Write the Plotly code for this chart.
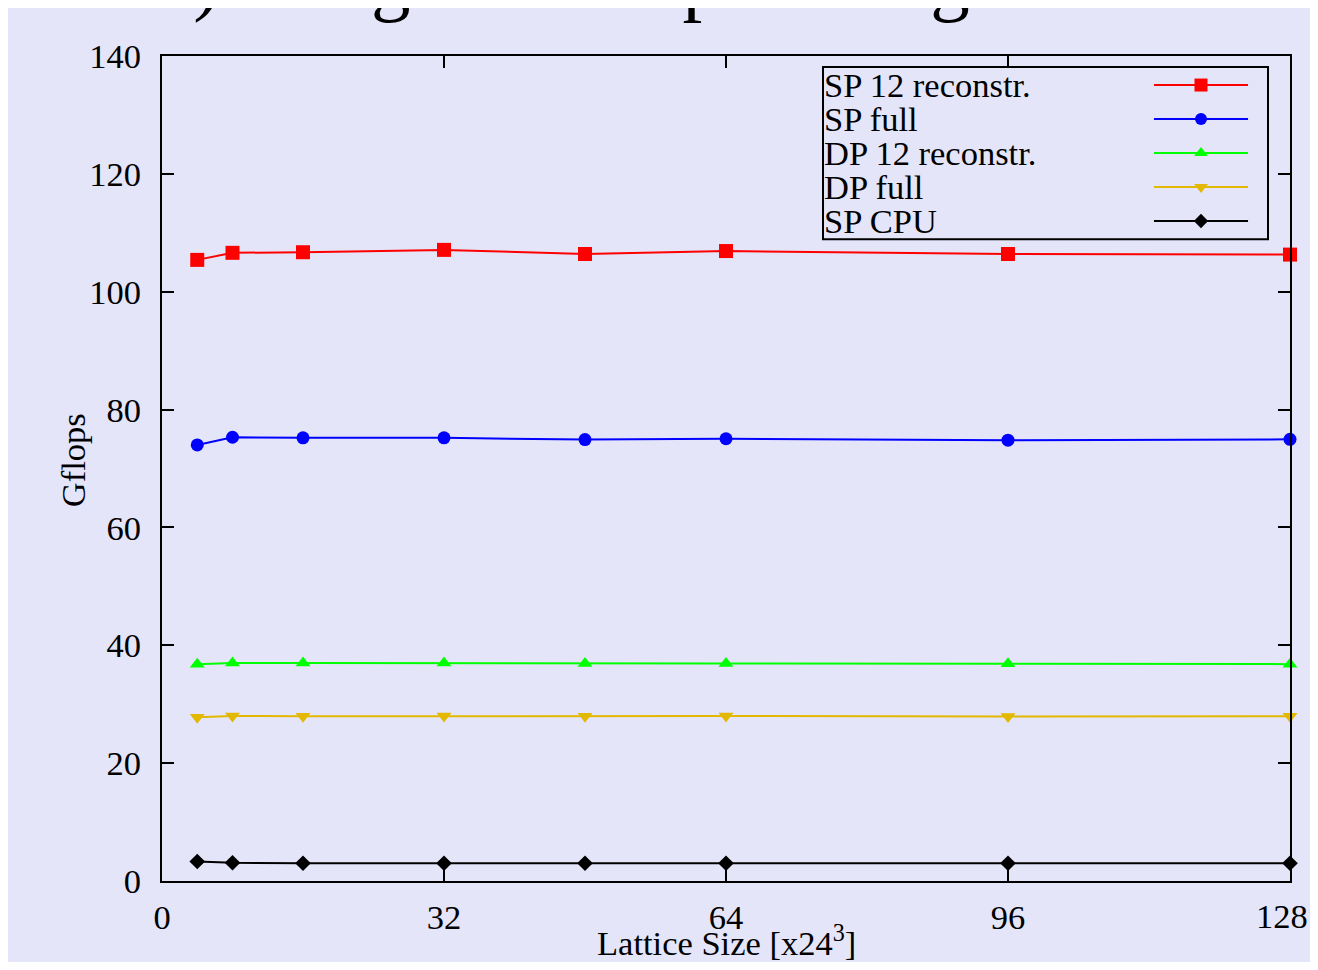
import plotly.graph_objects as go

# ---- data ----
lattice_sizes = [4, 8, 16, 32, 48, 64, 96, 128]
sp_12_reconstr = [105.4, 106.6, 106.7, 107.1, 106.4, 106.9, 106.4, 106.3]
sp_full = [74.0, 75.3, 75.2, 75.2, 74.9, 75.05, 74.8, 74.95]
dp_12_reconstr = [36.8, 37.0, 37.0, 37.0, 36.9, 36.9, 36.85, 36.8]
dp_full = [27.8, 28.0, 27.95, 28.0, 27.95, 28.0, 27.9, 27.95]
sp_cpu = [3.3, 3.1, 3.0, 3.0, 3.0, 3.0, 3.0, 3.0]

series_names = ["SP 12 reconstr.", "SP full", "DP 12 reconstr.", "DP full", "SP CPU"]
x_ticks = [0, 32, 64, 96, 128]
x_tick_labels = ["0", "32", "64", "96", "128"]
y_ticks = [0, 20, 40, 60, 80, 100, 120, 140]

series = [sp_12_reconstr, sp_full, dp_12_reconstr, dp_full, sp_cpu]
colors = ["#FF0000", "#0000FF", "#00FF00", "#E2B800", "#000000"]
symbols = ["square", "circle", "triangle-up", "triangle-down", "diamond"]
msizes = [14, 13, 13, 13, 12]

BG = "#E5E5FA"
FONT = "Liberation Serif"
FS = 34.5

fig = go.Figure()
for name, vals, c, s, ms in zip(series_names, series, colors, symbols, msizes):
    fig.add_trace(go.Scatter(
        x=lattice_sizes, y=vals, name=name, mode="lines+markers",
        line=dict(color=c, width=2), marker=dict(color=c, symbol=s, size=ms),
        cliponaxis=False, showlegend=False))

# ---- custom legend (text left, sample right) ----
leg_left, leg_right, leg_top, leg_bottom = 0.586, 0.9805, 0.9867, 0.778
row_y = [0.9648, 0.9236, 0.8824, 0.8412, 0.8]
line_x0, line_x1, mark_x = 0.8794, 0.9628, 0.9211
shapes = [dict(type="rect", xref="paper", yref="paper", x0=leg_left, x1=leg_right,
               y0=leg_bottom, y1=leg_top, line=dict(color="black", width=2),
               fillcolor="rgba(0,0,0,0)", layer="above")]
annotations = []
for name, c, s, ms, yy in zip(series_names, colors, symbols, msizes, row_y):
    shapes.append(dict(type="line", xref="paper", yref="paper", x0=line_x0, x1=line_x1,
                       y0=yy, y1=yy, line=dict(color=c, width=2), layer="below"))
    annotations.append(dict(xref="paper", yref="paper", x=leg_left - 0.001, y=yy, xanchor="left",
                            yanchor="middle", text=name, showarrow=False,
                            font=dict(family=FONT, size=FS, color="black")))
    fig.add_trace(go.Scatter(x=[mark_x], y=[yy], xaxis="x2", yaxis="y2", mode="markers",
                             marker=dict(color=c, symbol=s, size=ms - 1), showlegend=False,
                             hoverinfo="skip", cliponaxis=False))

# axis titles
annotations.append(dict(xref="paper", yref="paper", x=0.5, y=-0.0717, xanchor="center",
                        yanchor="middle", text="Lattice Size [x24<sup>3</sup>]", showarrow=False,
                        font=dict(family=FONT, size=FS, color="black")))
annotations.append(dict(xref="paper", yref="paper", x=-0.0789, y=0.51, xanchor="center",
                        yanchor="middle", text="Gflops", textangle=-90, showarrow=False,
                        font=dict(family=FONT, size=FS, color="black")))

# last x tick label: placed at its tick value, nudged so it stays inside the page
annotations.append(dict(xref="x", yref="paper", x=x_ticks[-1], y=-0.042, xanchor="center",
                        yanchor="middle", text=x_tick_labels[-1], showarrow=False, xshift=-8,
                        font=dict(family=FONT, size=FS, color="black")))

# cropped slide heading at the very top
annotations.append(dict(xref="paper", yref="paper", x=0.461, y=1.037, xanchor="center",
                        yanchor="bottom", text="12.0) using the compiler flag -xSSE4.2.",
                        showarrow=False, font=dict(family=FONT, size=79, color="black")))

axis_common = dict(showline=True, linecolor="black", linewidth=2, mirror="allticks",
                   ticks="inside", ticklen=12, tickwidth=2, tickcolor="black",
                   showgrid=False, zeroline=False, automargin=False,
                   tickfont=dict(family=FONT, size=FS, color="black"))

main_x_text = x_tick_labels[:-1] + [""]

fig.update_layout(
    width=1302, height=954, autosize=False,
    margin=dict(l=154, r=20, t=48, b=81),
    paper_bgcolor=BG, plot_bgcolor=BG,
    font=dict(family=FONT, color="black"),
    xaxis=dict(range=[0, 128], tickvals=x_ticks, ticktext=main_x_text,
               ticklabelstandoff=5, **axis_common),
    yaxis=dict(range=[0, 140], tickvals=y_ticks, ticklabelstandoff=12, **axis_common),
    xaxis2=dict(range=[0, 1], domain=[0, 1], overlaying="x", visible=False, fixedrange=True),
    yaxis2=dict(range=[0, 1], domain=[0, 1], overlaying="y", visible=False, fixedrange=True),
    shapes=shapes, annotations=annotations, showlegend=False,
)

fig.write_html("out.html")
